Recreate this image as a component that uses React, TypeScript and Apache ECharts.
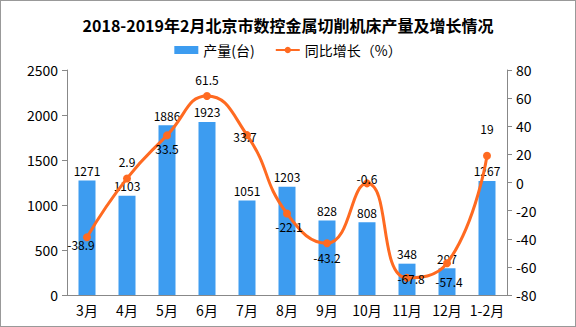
import React, { useEffect, useRef } from "react";
import * as echarts from "echarts";

const categories = ["3月", "4月", "5月", "6月", "7月", "8月", "9月", "10月", "11月", "12月", "1-2月"];
const production = [1271, 1103, 1886, 1923, 1051, 1203, 828, 808, 348, 297, 1267];
const growth = [-38.9, 2.9, 33.5, 61.5, 33.7, -22.1, -43.2, -0.6, -67.8, -57.4, 19];
const labelPos: any[] = [
  { position: "bottom", offset: [-6, -8] },
  { position: "top", offset: [0, -2] },
  { position: "bottom", offset: [0, -2] },
  { position: "top", offset: [0, -2] },
  { position: "inside", offset: [-2, 1] },
  { position: "bottom", offset: [2, -2] },
  { position: "bottom", offset: [0, -1] },
  { position: "inside", offset: [0, -5] },
  { position: "inside", offset: [4, 1] },
  { position: "bottom", offset: [2, 3] },
  { position: "top", offset: [0, -12] },
];

const FONT = "'Noto Sans CJK SC', sans-serif";

export default function App() {
  const ref = useRef<HTMLDivElement>(null);
  useEffect(() => {
    document.body.style.margin = "0";
    const chart = echarts.init(ref.current!, null, { renderer: "svg" });
    chart.setOption({
      animation: false,
      backgroundColor: "#fff",
      textStyle: { fontFamily: FONT },
      title: {
        text: "2018-2019年2月北京市数控金属切削机床产量及增长情况",
        left: "center",
        top: 12,
        textStyle: { fontSize: 16, fontWeight: "bold", color: "#000", fontFamily: FONT },
      },
      legend: {
        top: 38,
        left: "center",
        itemGap: 20,
        itemWidth: 24,
        itemHeight: 8,
        textStyle: { fontSize: 14, color: "#000", fontFamily: FONT },
        data: [
          { name: "产量(台)", icon: "rect" },
          { name: "同比增长（%）" },
        ],
      },
      grid: { left: 67, right: 69, top: 70, bottom: 32 },
      xAxis: {
        type: "category",
        data: categories,
        axisLine: { lineStyle: { color: "#888" } },
        axisTick: { length: 5, lineStyle: { color: "#888" } },
        axisLabel: { color: "#000", fontSize: 14, margin: 8, interval: 0 },
      },
      yAxis: [
        {
          type: "value",
          min: 0,
          max: 2500,
          interval: 500,
          splitLine: { show: false },
          axisLine: { show: true, lineStyle: { color: "#888" } },
          axisTick: { show: true, length: 5, lineStyle: { color: "#888" } },
          axisLabel: { color: "#000", fontSize: 14, margin: 9, formatter: (v: number) => String(v) },
        },
        {
          type: "value",
          min: -80,
          max: 80,
          interval: 20,
          splitLine: { show: false },
          axisLine: { show: true, lineStyle: { color: "#888" } },
          axisTick: { show: true, length: 5, lineStyle: { color: "#888" } },
          axisLabel: { color: "#000", fontSize: 14, margin: 9, formatter: (v: number) => String(v) },
        },
      ],
      series: [
        {
          name: "产量(台)",
          type: "bar",
          data: production,
          barWidth: 17,
          itemStyle: { color: "#3d9cf0" },
          label: { show: true, position: "top", distance: 4, color: "#000", fontSize: 12 },
        },
        {
          name: "同比增长（%）",
          type: "line",
          yAxisIndex: 1,
          smooth: 0.5,
          data: growth.map((v, i) => ({ value: v, label: labelPos[i] })),
          symbol: "circle",
          symbolSize: 8,
          lineStyle: { color: "#ff6a21", width: 3 },
          itemStyle: { color: "#ff6a21" },
          label: { show: true, color: "#000", fontSize: 12 },
        },
      ],
    });
    return () => chart.dispose();
  }, []);
  return (
    <div style={{ position: "relative", width: 576, height: 327 }}>
      <div ref={ref} style={{ width: 576, height: 327 }} />
      <div
        style={{
          position: "absolute",
          left: 0,
          top: 0,
          width: 576,
          height: 327,
          boxSizing: "border-box",
          border: "1px solid #999",
          pointerEvents: "none",
        }}
      />
    </div>
  );
}
